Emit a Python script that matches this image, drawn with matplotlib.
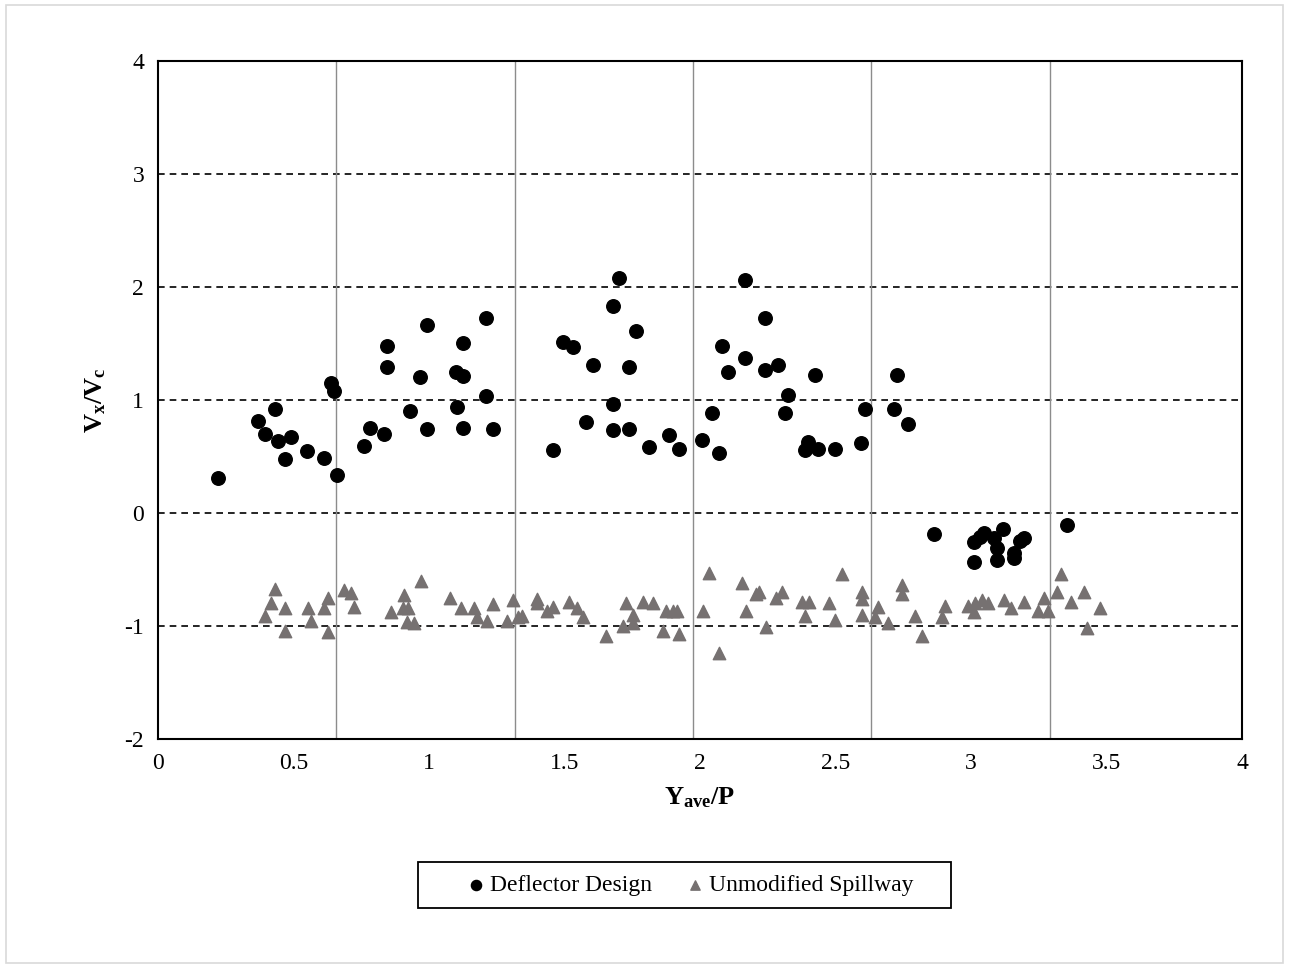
import matplotlib
matplotlib.use("Agg")
import matplotlib.pyplot as plt
from matplotlib.patches import Rectangle

plt.rcParams['font.family'] = 'Liberation Serif'
plt.rcParams['mathtext.fontset'] = 'custom'
plt.rcParams['mathtext.rm'] = 'Liberation Serif'
plt.rcParams['mathtext.bf'] = 'Liberation Serif:bold'
plt.rcParams['mathtext.it'] = 'Liberation Serif:italic'
plt.rcParams['axes.unicode_minus'] = False

# deflector design points (Yave/P, Vx/Vc)
defl_x = [0.222, 0.369, 0.394, 0.431, 0.442, 0.468, 0.491, 0.551, 0.613, 0.637,
          0.648, 0.662, 0.759, 0.783, 0.833, 0.845, 0.845, 0.930, 0.967, 0.993,
          0.992, 1.100, 1.127, 1.102, 1.127, 1.125, 1.211, 1.210, 1.237,
          1.702, 1.678, 1.763, 1.493, 1.531, 1.604, 1.738, 1.678, 1.579, 1.678,
          1.738, 1.456, 1.812, 1.886, 1.922, 2.007, 2.044, 2.069, 2.081, 2.167,
          2.105, 2.167, 2.240, 2.240, 2.289, 2.423, 2.326, 2.314, 2.400, 2.387,
          2.437, 2.728, 2.608, 2.717, 2.766, 2.498, 2.594,
          2.863, 3.010, 3.047, 3.034, 3.120, 3.085, 3.097, 3.097, 3.010, 3.157,
          3.157, 3.182, 3.196, 3.353]
defl_y = [0.307, 0.814, 0.699, 0.918, 0.640, 0.478, 0.675, 0.549, 0.489, 1.153,
          1.082, 0.336, 0.596, 0.755, 0.702, 1.295, 1.478, 0.905, 1.201, 1.664,
          0.743, 1.245, 1.212, 0.935, 0.750, 1.504, 1.035, 1.726, 0.741,
          2.082, 1.835, 1.611, 1.513, 1.472, 1.310, 1.295, 0.967, 0.808, 0.732,
          0.741, 0.558, 0.581, 0.690, 0.566, 0.643, 0.885, 0.534, 1.478, 2.062,
          1.245, 1.372, 1.726, 1.265, 1.307, 1.219, 1.042, 0.885, 0.631, 0.558,
          0.564, 1.221, 0.920, 0.920, 0.788, 0.564, 0.622,
          -0.183, -0.260, -0.174, -0.210, -0.145, -0.224, -0.307, -0.416, -0.434, -0.357,
          -0.396, -0.248, -0.218, -0.109]

# unmodified spillway points
unmod_x = [0.432, 0.418, 0.468, 0.395, 0.468, 0.552, 0.566, 0.627, 0.614, 0.627,
           0.685, 0.712, 0.724, 0.859, 0.909, 0.905, 0.921, 0.918, 0.945, 0.969,
           1.079, 1.117, 1.166, 1.176, 1.213, 1.237, 1.287, 1.311, 1.330,
           1.342, 1.397, 1.397, 1.434, 1.459, 1.518, 1.545, 1.569, 1.653, 1.715,
           1.727, 1.751, 1.754, 1.788, 1.825, 1.862, 1.875, 1.902, 1.914, 1.924,
           2.010, 2.034, 2.070, 2.156, 2.168, 2.205, 2.218, 2.242, 2.279, 2.304,
           2.375, 2.403, 2.387, 2.475, 2.498, 2.523, 2.597, 2.597, 2.597,
           2.646, 2.658, 2.695, 2.744, 2.744, 2.793, 2.818, 2.892, 2.904, 2.990,
           3.015, 3.012, 3.039, 3.064, 3.122, 3.148, 3.196, 3.246, 3.271, 3.283,
           3.319, 3.331, 3.368, 3.417, 3.429, 3.478]
unmod_y = [-0.675, -0.799, -0.838, -0.912, -1.042, -0.838, -0.953, -0.750, -0.838, -1.053,
           -0.684, -0.708, -0.832, -0.873, -0.726, -0.838, -0.838, -0.962, -0.976, -0.602,
           -0.755, -0.838, -0.838, -0.923, -0.956, -0.805, -0.956, -0.770, -0.917,
           -0.912, -0.764, -0.794, -0.867, -0.829, -0.788, -0.838, -0.923, -1.088, -1.000,
           -0.794, -0.903, -0.976, -0.788, -0.799, -1.044, -0.867, -0.867, -0.867, -1.071,
           -0.867, -0.528, -1.242, -0.622, -0.867, -0.720, -0.696, -1.006, -0.755, -0.696,
           -0.788, -0.788, -0.912, -0.799, -0.947, -0.540, -0.696, -0.764, -0.903,
           -0.917, -0.829, -0.971, -0.637, -0.720, -0.912, -1.088, -0.923, -0.823, -0.823,
           -0.794, -0.873, -0.770, -0.794, -0.770, -0.838, -0.788, -0.867, -0.755, -0.867,
           -0.696, -0.540, -0.788, -0.696, -1.020, -0.838]

# vertical reference lines
vlines = [0.658, 1.316, 1.974, 2.632, 3.29]

fig = plt.figure(figsize=(12.89, 9.68), dpi=100)
ax = fig.add_axes([0.1226, 0.2366, 0.8409, 0.7004])

# outer chart border
fig.patches.append(Rectangle((0.005, 0.005), 0.99, 0.99, transform=fig.transFigure,
                             fill=False, edgecolor='#d9d9d9', linewidth=1.2))

for y in [3, 2, 1, 0, -1]:
    ax.axhline(y, color='black', linestyle=(0, (4, 3)), linewidth=1.2, zorder=1)
for x in vlines:
    ax.axvline(x, color='#8c8c8c', linewidth=1.0, zorder=1)

ax.scatter(defl_x, defl_y, s=95, marker='o', color='black', zorder=3,
           label='Deflector Design')
ax.scatter(unmod_x, unmod_y, s=80, marker='^', color='#767171', zorder=3,
           label='Unmodified Spillway')

ax.set_xlim(0, 4)
ax.set_ylim(-2, 4)
ax.set_xticks([0, 0.5, 1, 1.5, 2, 2.5, 3, 3.5, 4])
ax.set_xticklabels(['0', '0.5', '1', '1.5', '2', '2.5', '3', '3.5', '4'])
ax.set_yticks([-2, -1, 0, 1, 2, 3, 4])
ax.tick_params(labelsize=17, length=0, pad=10)
for s in ax.spines.values():
    s.set_linewidth(1.5)
    s.set_color('black')

ax.set_xlabel(r'$\mathbf{Y_{ave}/P}$', fontsize=19, labelpad=8)
ax.set_ylabel(r'$\mathbf{V_x/V_c}$', fontsize=19, labelpad=12)

# legend box drawn separately so it can be wider than the entries
fig.patches.append(Rectangle((418 / 1289, 1 - 908 / 968), 533 / 1289, 46 / 968,
                             transform=fig.transFigure, fill=False,
                             edgecolor='black', linewidth=1.3))
leg = fig.legend(loc='center', bbox_to_anchor=(0.5335, 0.0857), ncol=2,
                 fontsize=17, frameon=False, markerscale=0.75,
                 handletextpad=0.0, columnspacing=1.2, handlelength=1.2)

fig.savefig('out.png', dpi=100)
